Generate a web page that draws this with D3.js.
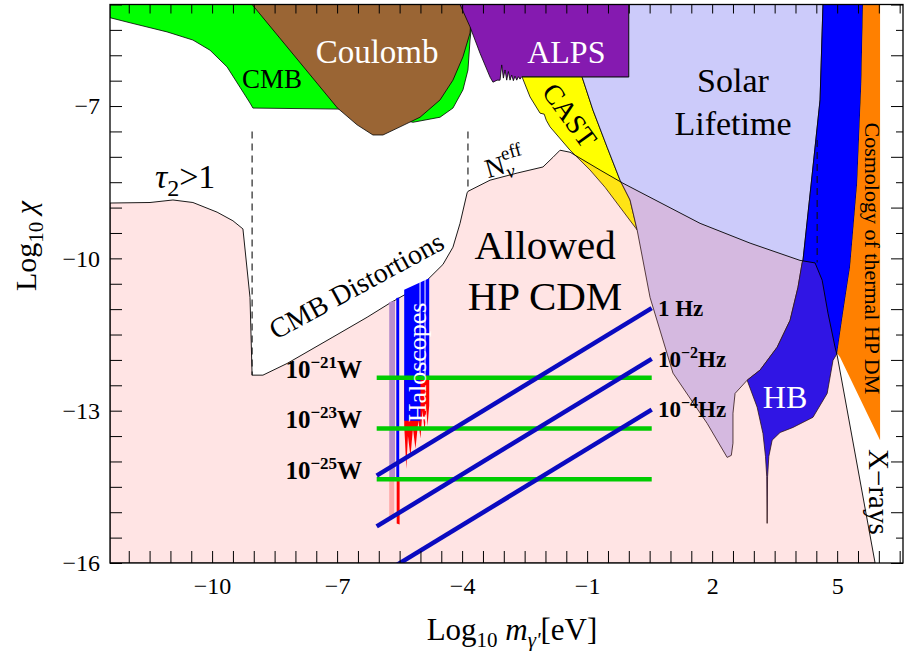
<!DOCTYPE html>
<html>
<head>
<meta charset="utf-8">
<script src="https://cdn.jsdelivr.net/npm/d3@7"></script>
<style>
  body { margin: 0; background: #fff; }
  svg text { font-family: "Liberation Serif", "Times New Roman", Times, serif; }
</style>
</head>
<body>
<div id="chart"></div>
<script>
// outlines, points are [log10 m, log10 chi]
const cmbRegion = [[-12.45,-5],[-12.45,-5.26],[-11.97,-5.36],[-11.08,-5.54],[-10.46,-5.70],[-10.05,-5.90],[-9.64,-6.23],[-9.33,-6.63],[-9.09,-6.94],[-9.02,-7.04],[-6.9,-7.06],[-6.0,-7.15],[-5.18,-7.32],[-4.53,-7.22],[-4.22,-7.04],[-3.98,-6.68],[-3.86,-6.29],[-3.81,-5.70],[-3.72,-5]];
const coulombRegion = [[-9.04,-5],[-6.99,-7.04],[-6.52,-7.37],[-6.14,-7.57],[-5.90,-7.57],[-5.49,-7.41],[-5.01,-7.22],[-4.53,-6.88],[-4.22,-6.49],[-3.98,-6.03],[-3.81,-5.56],[-3.76,-5]];
const alpsRegion = [[-4.05,-5],[-3.81,-5.44],[-3.57,-5.96],[-3.33,-6.43],[-3.26,-6.53],[-3.16,-6.49],[-3.09,-6.49],[-3.05,-6.19],[-3.01,-6.45],[-2.97,-6.29],[-2.93,-6.49],[-2.89,-6.32],[-2.85,-6.49],[-2.81,-6.39],[-2.77,-6.50],[-2.73,-6.41],[-2.69,-6.49],[-2.65,-6.42],[-2.61,-6.47],[-2.57,-6.42],[0,-6.43],[0,-5]];
const castRegion = [[-2.56,-6.43],[-2.37,-6.82],[-2.13,-7.14],[-2.03,-7.16],[-1.98,-7.28],[-1.89,-7.41],[-1.41,-7.87],[-0.93,-8.26],[-0.57,-8.60],[0.2,-9.44],[0.03,-8.85],[-0.21,-8.46],[-0.52,-7.81],[-0.86,-7.08],[-1.12,-6.43]];
const solarRegion = [[-1.12,-6.43],[0,-6.43],[0,-5],[4.66,-5],[4.59,-6.88],[4.42,-8.20],[4.18,-10.04],[4.16,-10.09],[4.06,-10.57],[3.87,-11.22],[3.56,-11.75],[3.15,-12.20],[2.84,-12.40],[2.55,-12.66],[2.50,-13.05],[2.50,-13.64],[2.46,-13.88],[2.36,-13.92],[1.88,-13.25],[1.06,-12.26],[0.51,-10.77],[0.2,-9.44],[0.03,-8.85],[-0.21,-8.46],[-0.52,-7.81],[-0.86,-7.08]];
const stellarRegion = [[4.66,-5],[4.59,-6.88],[4.42,-8.20],[4.18,-10.04],[4.16,-10.09],[4.06,-10.57],[3.87,-11.22],[3.56,-11.75],[3.15,-12.20],[2.84,-12.40],[3.08,-12.93],[3.22,-13.45],[3.28,-13.9],[3.31,-14.3],[3.32,-15.22],[3.33,-14.3],[3.36,-13.9],[3.44,-13.58],[3.63,-13.43],[3.94,-13.33],[4.42,-13.13],[4.76,-12.66],[4.90,-12.01],[5.0,-11.87],[5.14,-11.08],[5.26,-10.43],[5.31,-10.17],[5.48,-8.52],[5.58,-6.55],[5.62,-5]];
const cosmoRegion = [[5.62,-5],[6.03,-5],[6.03,-13.58],[5.07,-11.95],[5.0,-11.87],[5.14,-11.08],[5.26,-10.43],[5.31,-10.17],[5.48,-8.52],[5.58,-6.55]];
const allowedRegion = [[-12.45,-8.91],[-11.49,-8.90],[-10.94,-8.85],[-10.46,-8.90],[-9.88,-9.09],[-9.50,-9.26],[-9.26,-9.42],[-9.09,-10.77],[-9.04,-12.30],[-8.78,-12.30],[-8.2,-12.07],[-7.10,-11.55],[-6.28,-11.16],[-5.73,-10.88],[-5.32,-10.69],[-4.89,-10.47],[-4.46,-10.12],[-4.22,-9.78],[-4.05,-9.31],[-3.88,-8.71],[-3.86,-8.68],[-3.33,-8.46],[-2.68,-8.32],[-2.06,-8.20],[-1.82,-8.01],[-1.65,-7.87],[-1.41,-7.91],[-1.10,-8.06],[-0.69,-8.26],[-0.14,-8.52],[1.71,-9.31],[2.91,-9.70],[4.11,-10.04],[4.47,-10.09],[4.64,-10.43],[4.78,-11.08],[4.95,-11.75],[5.0,-11.91],[5.91,-16],[-12.45,-16]];

// haloscope strips
const haloLilac = [[-5.75,-10.86],[-5.61,-10.84],[-5.61,-14.31],[-5.75,-14.31]];
const haloSalmon = [[-5.75,-14.31],[-5.63,-14.31],[-5.63,-15.12],[-5.75,-15.12]];
const haloThinBlue = [[-5.58,-10.78],[-5.51,-10.77],[-5.51,-14.31],[-5.58,-14.31]];
const haloThinRed = [[-5.57,-14.31],[-5.50,-14.31],[-5.50,-15.24],[-5.57,-15.22]];
const haloRed = [[-5.39,-12.36],[-4.79,-12.36],[-4.79,-12.9],[-4.83,-13.3],[-4.86,-12.95],[-4.90,-13.4],[-4.95,-13.0],[-5.0,-13.55],[-5.05,-13.2],[-5.12,-13.75],[-5.18,-13.35],[-5.24,-13.9],[-5.30,-13.5],[-5.34,-14.15],[-5.37,-13.6],[-5.39,-13.3]];
const haloBlue = [[-5.39,-10.62],[-4.79,-10.39],[-4.79,-12.36],[-5.0,-12.36],[-5.0,-13.2],[-5.39,-13.2]];
const haloGaps = [-5.01, -4.89];

// detector sensitivity lines
const powerLevels = [-12.35, -13.35, -14.35];
const powerExps = ["\u221221", "\u221223", "\u221225"];
const lineSpan = [-6.05, 0.55];
const freqStart = [-14.28, -15.28, -16.28];
const freqEnd = [-10.98, -11.98, -12.98];
const freqExps = [null, "\u22122", "\u22124"];

// dashed borders: [x, top, bottom]
const dashLines = [[-9.04,-7.5,-12.3],[-3.86,-7.5,-8.68],[4.52,-7.67,-10.08]];

const xMajor = [-10, -7, -4, -1, 2, 5];
const yMajor = [-16, -13, -10, -7];

const x = d3.scaleLinear().domain([-12.45, 6.58]).range([110, 903]);
const y = d3.scaleLinear().domain([-16, -5]).range([563, 4.5]);
const line = d3.line().x(d => x(d[0])).y(d => y(d[1]));

const svg = d3.select("#chart").append("svg")
    .attr("width", 904).attr("height", 651);

svg.append("defs").append("clipPath").attr("id", "plotClip")
    .append("rect")
    .attr("x", x.range()[0]).attr("y", y.range()[1])
    .attr("width", x.range()[1] - x.range()[0])
    .attr("height", y.range()[0] - y.range()[1]);

const plot = svg.append("g").attr("clip-path", "url(#plotClip)");

function region(pts, fill, sw = 0.8, stroke = "#000") {
    return plot.append("path")
        .attr("d", line(pts) + "Z")
        .attr("fill", fill)
        .attr("stroke", stroke)
        .attr("stroke-width", sw)
        .attr("stroke-linejoin", "round");
}

region(cmbRegion, "#00ff00");
region(coulombRegion, "#9a6534");
region(alpsRegion, "#851ab0");
region(castRegion, "#ffff00");
region(solarRegion, "#cccbfa");
region(stellarRegion, "#0000ff");
region(cosmoRegion, "#ff8000", 0, "none");
region(allowedRegion, "rgb(255,110,110)", 0.9).attr("fill-opacity", 0.19);

// haloscopes
region(haloLilac, "#b88dcc", 0, "none");
region(haloSalmon, "#ffaaaa", 0, "none");
region(haloThinBlue, "#0000ff", 0, "none");
region(haloThinRed, "#ff0000", 0, "none");
region(haloRed, "#ff0000", 0, "none");
region(haloBlue, "#0000ff", 0, "none");
plot.selectAll(".halogap").data(haloGaps).enter().append("line")
    .attr("x1", d => x(d)).attr("x2", d => x(d))
    .attr("y1", y(-10.4)).attr("y2", y(-12.3))
    .attr("stroke", "#fff").attr("stroke-width", 1);

// dashed borders
plot.selectAll(".dash").data(dashLines).enter().append("line")
    .attr("x1", d => x(d[0])).attr("x2", d => x(d[0]))
    .attr("y1", d => y(d[1])).attr("y2", d => y(d[2]))
    .attr("stroke", "#111").attr("stroke-width", 1.1)
    .attr("stroke-dasharray", "7,5");

// power lines and frequency lines
plot.selectAll(".power").data(powerLevels).enter().append("line")
    .attr("x1", x(lineSpan[0])).attr("x2", x(lineSpan[1]))
    .attr("y1", d => y(d)).attr("y2", d => y(d))
    .attr("stroke", "#00cc00").attr("stroke-width", 4.5);

plot.selectAll(".freq").data(freqStart).enter().append("line")
    .attr("x1", x(lineSpan[0])).attr("x2", x(lineSpan[1]))
    .attr("y1", d => y(d)).attr("y2", (d, i) => y(freqEnd[i]))
    .attr("stroke", "#0a0ac0").attr("stroke-width", 4.5);

// axes: inward ticks on all four sides
const xTickVals = d3.range(-12, 6.51, 0.5);
const yTickVals = d3.range(-16, -4.99, 0.5);
const minus = d => d < 0 ? "\u2212" + Math.abs(d) : String(d);

const gx = svg.append("g").attr("transform", `translate(0,${y(-16)})`)
    .call(d3.axisBottom(x).tickValues(xTickVals).tickSize(-12).tickPadding(14)
        .tickFormat(d => xMajor.includes(d) ? minus(d) : ""));
const gy = svg.append("g").attr("transform", `translate(${x.range()[0]},0)`)
    .call(d3.axisLeft(y).tickValues(yTickVals).tickSize(-12).tickPadding(10)
        .tickFormat(d => yMajor.includes(d) ? minus(d) : ""));
const gt = svg.append("g").attr("transform", `translate(0,${y(-5)})`)
    .call(d3.axisTop(x).tickValues(xTickVals).tickSize(-9).tickFormat(""));
const gr = svg.append("g").attr("transform", `translate(${x.range()[1]},0)`)
    .call(d3.axisRight(y).tickValues(yTickVals).tickSize(-12).tickFormat(""));
gr.selectAll(".tick line").attr("x2", d => Number.isInteger(d) ? -12 : -7);

[gx, gy, gt, gr].forEach(g => {
    g.select(".domain").remove();
    g.selectAll(".tick line").attr("stroke", "#000").attr("stroke-width", 1);
    g.selectAll(".tick text").attr("font-size", 24).attr("fill", "#000")
        .attr("font-family", '"Liberation Serif", "Times New Roman", serif');
});

svg.append("rect")
    .attr("x", x.range()[0]).attr("y", y.range()[1])
    .attr("width", x.range()[1] - x.range()[0])
    .attr("height", y.range()[0] - y.range()[1])
    .attr("fill", "none").attr("stroke", "#000").attr("stroke-width", 1.3);

// labels
function label(xv, yv, size, opts = {}) {
    const t = svg.append("text")
        .attr("transform", `translate(${x(xv)},${y(yv)}) rotate(${opts.rotate || 0})`)
        .attr("text-anchor", opts.anchor || "middle")
        .attr("font-size", size)
        .attr("fill", opts.fill || "#000");
    if (opts.bold) t.attr("font-weight", "bold");
    if (opts.dy) t.attr("dy", opts.dy);
    return t;
}

label(-8.56, -6.65, 27).text("CMB");
label(-6.04, -6.15, 33, {fill: "#fff"}).text("Coulomb");
label(-1.5, -6.15, 32, {fill: "#fff"}).text("ALPS");
label(2.5, -6.72, 34).text("Solar");
label(2.5, -7.57, 34).text("Lifetime");
label(-1.41, -7.18, 28, {rotate: 54, dy: "0.35em"}).text("CAST");
label(-6.54, -10.53, 28, {rotate: -28.5, dy: "0.35em"}).text("CMB Distortions");
label(-2.01, -10.02, 41).text("Allowed");
label(-2.01, -11.02, 41).text("HP CDM");
label(3.75, -12.95, 32, {fill: "#fff"}).text("HB");
label(-5.08, -12.05, 26, {rotate: -90, dy: "0.33em", fill: "#fff"}).text("Haloscopes");
label(5.85, -10.0, 22, {rotate: 90, dy: "0.33em"}).text("Cosmology of thermal HP DM");
label(6.0, -14.6, 29, {rotate: 90, dy: "0.33em"}).text("X\u2212rays");

const tau = label(-11.37, -8.62, 34, {anchor: "start"});
tau.append("tspan").attr("font-style", "italic").text("\u03c4");
tau.append("tspan").attr("dy", 8).attr("font-size", 24).text("2");
tau.append("tspan").attr("dy", -8).text(">1");

const neff = label(-3.38, -8.42, 27, {anchor: "start", rotate: -16});
neff.append("tspan").text("N");
neff.append("tspan").attr("dy", 6).attr("font-size", 19).attr("font-style", "italic").text("\u03bd");
neff.append("tspan").attr("dx", -9).attr("dy", -19).attr("font-size", 19).text("eff");

powerLevels.forEach((lv, i) => {
    const t = label(-6.40, lv, 25, {anchor: "end", bold: true});
    t.append("tspan").text("10");
    t.append("tspan").attr("dy", -10).attr("font-size", 17).text(powerExps[i]);
    t.append("tspan").attr("dy", 10).text("W");
});

freqEnd.forEach((lv, i) => {
    const t = label(0.70, lv - 0.15, 23, {anchor: "start", bold: true});
    if (freqExps[i] === null) {
        t.text("1 Hz");
    } else {
        t.append("tspan").text("10");
        t.append("tspan").attr("dy", -9).attr("font-size", 16).text(freqExps[i]);
        t.append("tspan").attr("dy", 9).text("Hz");
    }
});

// axis titles
const xt = svg.append("text").attr("x", 512).attr("y", 640)
    .attr("text-anchor", "middle").attr("font-size", 31);
xt.append("tspan").text("Log");
xt.append("tspan").attr("dy", 7).attr("font-size", 21).text("10");
xt.append("tspan").attr("dy", -7).text(" ");
xt.append("tspan").attr("font-style", "italic").text("m");
xt.append("tspan").attr("dy", 7).attr("font-size", 21).attr("font-style", "italic").text("\u03b3'");
xt.append("tspan").attr("dy", -7).text("[eV]");

const yt = svg.append("text")
    .attr("transform", "translate(36,246) rotate(-90)")
    .attr("text-anchor", "middle").attr("font-size", 30);
yt.append("tspan").text("Log");
yt.append("tspan").attr("dy", 7).attr("font-size", 21).text("10");
yt.append("tspan").attr("dy", -7).text(" ");
yt.append("tspan").attr("font-style", "italic").text("\u03c7");
</script>
</body>
</html>
